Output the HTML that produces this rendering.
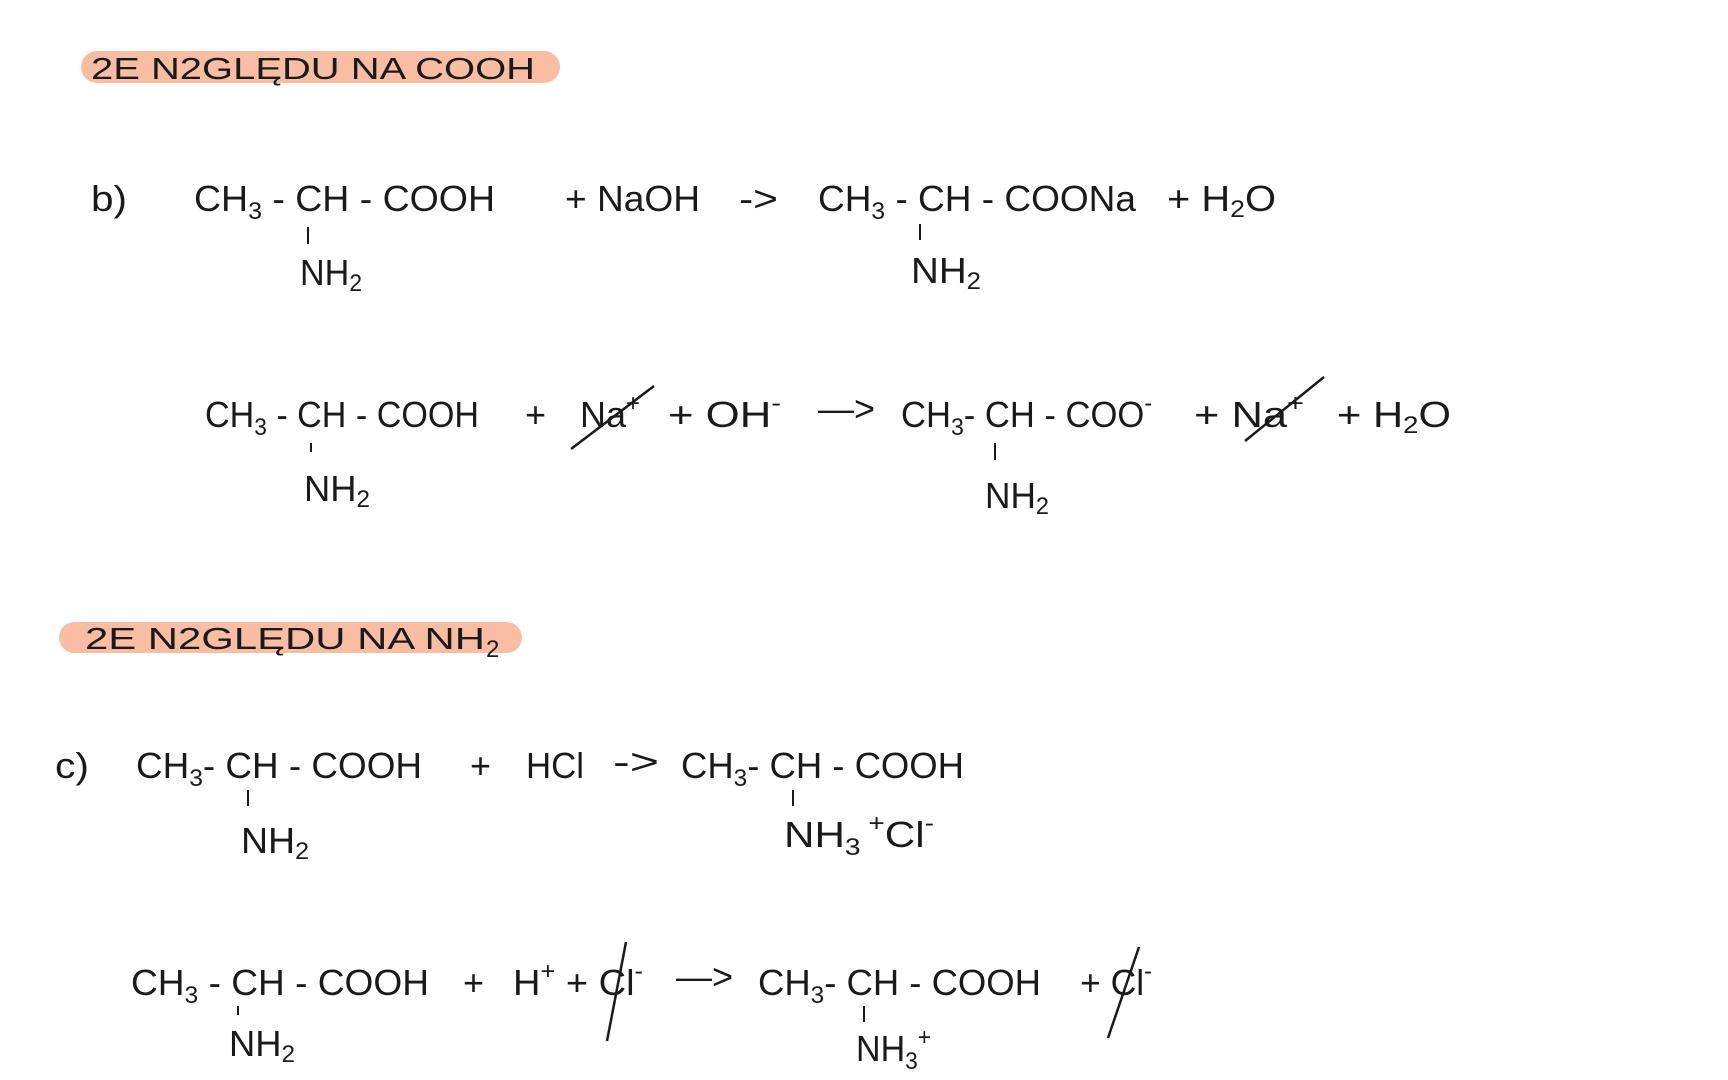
<!DOCTYPE html>
<html><head><meta charset="utf-8"><style>
html,body{margin:0;padding:0;background:#fff;}
svg{display:block;}
text{font-family:"Liberation Sans",sans-serif;fill:#1a1a1a;font-size:36px;}
.s{font-size:24px;}
.h{font-size:31px;}
</style></head><body>
<svg width="1728" height="1080" viewBox="0 0 1728 1080" xmlns="http://www.w3.org/2000/svg">
<rect x="81" y="51" width="479" height="32" rx="16" fill="#f8bda3"/>
<text class="h" x="91" y="79" textLength="444" lengthAdjust="spacingAndGlyphs">2E N2GLĘDU NA COOH</text>
<rect x="59" y="622" width="463" height="31" rx="15.5" fill="#f8bda3"/>
<text class="h" x="85" y="649" textLength="400" lengthAdjust="spacingAndGlyphs">2E N2GLĘDU NA NH</text>
<text class="s" x="486" y="657">2</text>

<!-- line b -->
<text x="91" y="211" textLength="36" lengthAdjust="spacingAndGlyphs">b)</text>
<text x="194" y="211" textLength="301" lengthAdjust="spacingAndGlyphs">CH<tspan class="s" dy="8">3</tspan><tspan dy="-8"> - CH - COOH</tspan></text>
<text x="565" y="211" textLength="135" lengthAdjust="spacingAndGlyphs">+ NaOH</text>
<text x="739" y="211" textLength="39" lengthAdjust="spacingAndGlyphs">-&gt;</text>
<text x="818" y="211" textLength="318" lengthAdjust="spacingAndGlyphs">CH<tspan class="s" dy="8">3</tspan><tspan dy="-8"> - CH - COONa</tspan></text>
<text x="1167" y="211" textLength="109" lengthAdjust="spacingAndGlyphs">+ H<tspan class="s" dy="6">2</tspan><tspan dy="-6">O</tspan></text>
<line x1="308" y1="227" x2="308" y2="244" stroke="#1a1a1a" stroke-width="2"/>
<text x="300" y="285" textLength="62" lengthAdjust="spacingAndGlyphs">NH<tspan class="s" dy="6">2</tspan></text>
<line x1="920" y1="224" x2="920" y2="240" stroke="#1a1a1a" stroke-width="2"/>
<text x="911" y="283" textLength="70" lengthAdjust="spacingAndGlyphs">NH<tspan class="s" dy="6">2</tspan></text>

<!-- line 2 -->
<text x="205" y="427" textLength="274" lengthAdjust="spacingAndGlyphs">CH<tspan class="s" dy="8">3</tspan><tspan dy="-8"> - CH - COOH</tspan></text>
<text x="525" y="427">+</text>
<text x="580" y="427" textLength="60" lengthAdjust="spacingAndGlyphs">Na<tspan class="s" dy="-16">+</tspan></text>
<line x1="571" y1="449" x2="654" y2="386" stroke="#1a1a1a" stroke-width="2.5"/>
<text x="668" y="427" textLength="113" lengthAdjust="spacingAndGlyphs">+ OH<tspan class="s" dy="-16">-</tspan></text>
<text x="818" y="421" textLength="57" lengthAdjust="spacingAndGlyphs">—&gt;</text>
<text x="901" y="427" textLength="251" lengthAdjust="spacingAndGlyphs">CH<tspan class="s" dy="8">3</tspan><tspan dy="-8">- CH - COO</tspan><tspan class="s" dy="-16">-</tspan></text>
<text x="1194" y="427" textLength="110" lengthAdjust="spacingAndGlyphs">+ Na<tspan class="s" dy="-16">+</tspan></text>
<line x1="1245" y1="441" x2="1324" y2="377" stroke="#1a1a1a" stroke-width="2.5"/>
<text x="1337" y="427" textLength="114" lengthAdjust="spacingAndGlyphs">+ H<tspan class="s" dy="6">2</tspan><tspan dy="-6">O</tspan></text>
<line x1="311" y1="443" x2="311" y2="452" stroke="#1a1a1a" stroke-width="2"/>
<text x="304" y="501" textLength="66" lengthAdjust="spacingAndGlyphs">NH<tspan class="s" dy="6">2</tspan></text>
<line x1="995" y1="443" x2="995" y2="460" stroke="#1a1a1a" stroke-width="2"/>
<text x="985" y="508" textLength="64" lengthAdjust="spacingAndGlyphs">NH<tspan class="s" dy="6">2</tspan></text>

<!-- line c -->
<text x="55" y="778" textLength="34" lengthAdjust="spacingAndGlyphs">c)</text>
<text x="136" y="778" textLength="286" lengthAdjust="spacingAndGlyphs">CH<tspan class="s" dy="8">3</tspan><tspan dy="-8">- CH - COOH</tspan></text>
<text x="470" y="778">+</text>
<text x="526" y="778" textLength="58" lengthAdjust="spacingAndGlyphs">HCl</text>
<text x="613" y="774" textLength="46" lengthAdjust="spacingAndGlyphs">-&gt;</text>
<text x="681" y="778" textLength="283" lengthAdjust="spacingAndGlyphs">CH<tspan class="s" dy="8">3</tspan><tspan dy="-8">- CH - COOH</tspan></text>
<line x1="248" y1="790" x2="248" y2="806" stroke="#1a1a1a" stroke-width="2"/>
<text x="241" y="853" textLength="68" lengthAdjust="spacingAndGlyphs">NH<tspan class="s" dy="6">2</tspan></text>
<line x1="793" y1="790" x2="793" y2="806" stroke="#1a1a1a" stroke-width="2"/>
<text x="784" y="847" textLength="150" lengthAdjust="spacingAndGlyphs">NH<tspan class="s" dy="8">3</tspan><tspan class="s" dy="-24"> +</tspan><tspan dy="16">Cl</tspan><tspan class="s" dy="-16">-</tspan></text>

<!-- line 4 -->
<text x="131" y="995" textLength="298" lengthAdjust="spacingAndGlyphs">CH<tspan class="s" dy="8">3</tspan><tspan dy="-8"> - CH - COOH</tspan></text>
<text x="463" y="995">+</text>
<text x="513" y="995" textLength="130" lengthAdjust="spacingAndGlyphs">H<tspan class="s" dy="-16">+</tspan><tspan dy="16"> + Cl</tspan><tspan class="s" dy="-16">-</tspan></text>
<line x1="607" y1="1041" x2="626" y2="942" stroke="#1a1a1a" stroke-width="2.5"/>
<text x="676" y="989" textLength="57" lengthAdjust="spacingAndGlyphs">—&gt;</text>
<text x="758" y="995" textLength="283" lengthAdjust="spacingAndGlyphs">CH<tspan class="s" dy="8">3</tspan><tspan dy="-8">- CH - COOH</tspan></text>
<text x="1080" y="995" textLength="72" lengthAdjust="spacingAndGlyphs">+ Cl<tspan class="s" dy="-16">-</tspan></text>
<line x1="1108" y1="1038" x2="1139" y2="947" stroke="#1a1a1a" stroke-width="2.5"/>
<line x1="238" y1="1006" x2="238" y2="1015" stroke="#1a1a1a" stroke-width="2"/>
<text x="229" y="1056" textLength="66" lengthAdjust="spacingAndGlyphs">NH<tspan class="s" dy="6">2</tspan></text>
<line x1="864" y1="1006" x2="864" y2="1022" stroke="#1a1a1a" stroke-width="2"/>
<text x="856" y="1061" textLength="75" lengthAdjust="spacingAndGlyphs">NH<tspan class="s" dy="8">3</tspan><tspan class="s" dy="-24">+</tspan></text>
</svg>
</body></html>
